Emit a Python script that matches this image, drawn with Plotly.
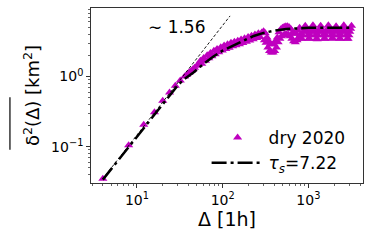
import plotly.graph_objects as go

# ---- data ----
delta_rise = [4, 8, 12, 16, 20, 24, 28, 32,
              36, 38, 40, 41, 43, 45, 47, 50, 52, 55, 57, 60, 63, 66, 69, 72, 75, 79,
              82, 86, 90, 95, 99, 104, 109, 114, 119, 125, 131, 137, 143, 150, 157,
              164, 172, 180, 189, 198, 207, 217, 227, 238, 249, 261, 273, 286]
msd_rise = [0.035, 0.105, 0.205, 0.31, 0.45, 0.59, 0.74, 0.88,
            1.00, 1.06, 1.12, 1.15, 1.21, 1.27, 1.33, 1.42, 1.48, 1.68, 1.52, 1.84,
            1.68, 2.01, 1.82, 2.16, 1.95, 2.32, 2.08, 2.46, 2.21, 2.62, 2.35, 2.76,
            2.47, 2.89, 2.57, 3.02, 2.69, 3.14, 2.79, 3.24, 2.89, 3.36, 3.00, 3.50,
            3.13, 3.66, 3.26, 3.82, 3.40, 3.98, 3.54, 4.14, 3.66, 4.23]

delta_dip = [300, 307, 314, 321, 329, 337, 344, 352, 361, 369, 378, 387, 396, 405,
             414, 424, 434, 444, 454, 465, 476, 487, 498, 510, 522, 534, 546, 559,
             572, 585, 599, 613, 627, 642, 657, 672, 688, 704, 720, 737, 754, 772, 790]
msd_dip = [4.42, 3.29, 4.14, 3.02, 3.60, 2.60, 3.20, 2.30, 2.90, 2.20, 2.85, 2.20,
           2.90, 2.30, 3.20, 2.60, 3.60, 3.07, 4.28, 3.45, 4.72, 3.75, 4.96, 3.87,
           5.13, 4.00, 5.22, 4.00, 5.22, 3.93, 5.05, 3.75, 4.72, 3.45, 4.28, 3.18,
           4.07, 3.07, 4.07, 3.29, 4.50, 3.63, 4.96]

delta_plateau = [800, 819, 838, 857, 877, 898, 919, 940, 962, 984, 1007, 1031, 1055,
                 1079, 1104, 1130, 1156, 1183, 1211, 1239, 1268, 1297, 1327, 1358,
                 1390, 1422, 1455, 1489, 1524, 1560, 1596, 1633, 1671, 1710, 1750,
                 1791, 1832, 1875, 1919, 1963, 2009, 2056, 2104, 2153, 2203, 2254,
                 2307, 2360, 2415, 2471, 2529, 2588, 2648, 2710, 2773, 2837, 2903,
                 2971, 3040, 3111, 3183]
msd_plateau = [3.87, 3.45, 3.45, 3.87, 4.35, 4.80,
               5.30, 4.80, 4.35, 3.87, 3.45, 3.45, 3.87, 4.35, 4.80,
               5.39, 4.80, 4.35, 3.87, 3.45, 3.40, 3.87, 4.35, 4.80,
               5.30, 4.80, 4.35, 3.87, 3.45, 3.45, 3.87, 4.35, 4.80,
               5.39, 4.80, 4.35, 3.87, 3.45, 3.51, 3.87, 4.35, 4.80,
               5.22, 4.80, 4.35, 3.87, 3.45, 3.45, 3.87, 4.35, 4.80,
               5.39, 4.80, 4.35, 3.87, 3.45, 3.45, 3.87, 4.35, 4.80,
               5.30]

fit_delta = [4, 6, 8, 11, 16, 22, 30, 35, 46, 60, 78, 100, 134, 175, 230, 300,
             400, 550, 760, 1000, 1500, 2000, 3200]
fit_msd = [0.034, 0.063, 0.098, 0.16, 0.29, 0.47, 0.75, 0.90, 1.15, 1.52, 1.93,
           2.34, 2.78, 3.28, 3.78, 4.18, 4.5, 4.75, 4.9, 4.95, 4.97, 4.97, 4.97]

guide_delta = [4, 122]
guide_msd = [0.035, 7.3]

x_tickvals = [10, 100, 1000]
x_ticktext = ["10<sup>1</sup>", "10<sup>2</sup>", "10<sup>3</sup>"]
y_tickvals = [0.1, 1]
y_ticktext = ["10<sup>\u22121</sup>", "10<sup>0</sup>"]

series_label = "dry 2020"
fit_label = "<i>\u03c4<sub>s</sub></i>=7.22"
slope_label = "\u223c 1.56"

# ---- figure ----
FONT = "DejaVu Sans"
fig = go.Figure()
fig.add_trace(go.Scatter(
    x=delta_rise + delta_dip + delta_plateau,
    y=msd_rise + msd_dip + msd_plateau,
    mode="markers", name=series_label,
    marker=dict(symbol="triangle-up", size=8, color="#bf00bf", line=dict(width=0)),
))
fig.add_trace(go.Scatter(
    x=fit_delta, y=fit_msd, mode="lines", name=fit_label,
    line=dict(color="black", width=2.5, dash="15px,4px,3px,4px"),
))
fig.add_trace(go.Scatter(
    x=guide_delta, y=guide_msd, mode="lines", showlegend=False,
    line=dict(color="black", width=0.9, dash="3px,2px"),
))

x_minor = [m * 10 ** e for e in range(0, 4) for m in range(2, 10)]
y_minor = [m * 10 ** e for e in range(-2, 1) for m in range(2, 10)]

fig.update_layout(
    width=373, height=245,
    margin=dict(l=91, r=10, t=8, b=62),
    paper_bgcolor="white", plot_bgcolor="white",
    font=dict(family=FONT, size=14, color="black"),
    showlegend=True,
    legend=dict(x=0.425, y=0.36, xanchor="left", yanchor="top",
                bgcolor="rgba(0,0,0,0)", font=dict(size=17, family=FONT),
                itemwidth=52),
    annotations=[dict(text=slope_label, xref="paper", yref="paper",
                      x=0.317, y=0.89, xanchor="center", yanchor="middle",
                      showarrow=False, font=dict(size=17, family=FONT))],
)
fig.update_xaxes(
    type="log", range=[0.464, 3.637], automargin=False,
    tickmode="array", tickvals=x_tickvals, ticktext=x_ticktext,
    ticks="outside", ticklen=4, tickwidth=0.8, tickcolor="black",
    minor=dict(ticks="outside", ticklen=2, tickwidth=0.6, tickcolor="black",
               tickmode="array", tickvals=x_minor),
    showline=True, linecolor="black", linewidth=0.8, mirror=True,
    showgrid=False, zeroline=False,
    title=dict(text="\u0394 [1h]", font=dict(size=19, family=FONT), standoff=6),
    tickfont=dict(size=14, family=FONT),
)
fig.update_yaxes(
    type="log", range=[-1.517, 0.976], automargin=False,
    tickmode="array", tickvals=y_tickvals, ticktext=y_ticktext,
    ticks="outside", ticklen=4, tickwidth=0.8, tickcolor="black",
    minor=dict(ticks="outside", ticklen=2, tickwidth=0.6, tickcolor="black",
               tickmode="array", tickvals=y_minor),
    showline=True, linecolor="black", linewidth=0.8, mirror=True,
    showgrid=False, zeroline=False,
    title=dict(text="\u03b4<sup>2</sup>(\u0394) [km<sup>2</sup>]",
               font=dict(size=18, family=FONT), standoff=6),
    tickfont=dict(size=14, family=FONT),
)
# overline above δ²(Δ) in the rotated y title
fig.add_shape(type="line", xref="paper", yref="paper",
              x0=-0.298, x1=-0.298, y0=0.19, y1=0.49,
              line=dict(color="black", width=1.2))

fig.write_html("out.html",
               config={"displayModeBar": False, "staticPlot": True},
               post_script="document.body.style.margin='0';"
                           "document.body.style.overflow='hidden';")
